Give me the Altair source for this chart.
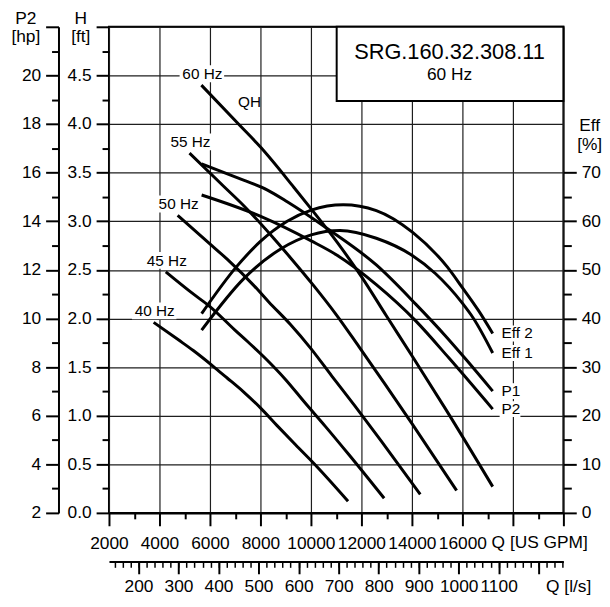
import altair as alt
import pandas as pd

FONT = "Liberation Sans"
LBL = 17.5
TTL = 17.5

# ---------------- values ----------------
FREQ_LABELS = ["60 Hz", "55 Hz", "50 Hz", "45 Hz", "40 Hz"]

Q_60HZ = [5660, 7130, 8010, 9320, 10000, 11020, 12000, 12980, 14090, 15330, 17200]
H_60HZ = [4.40, 4.00, 3.76, 3.35, 3.13, 2.79, 2.43, 2.03, 1.58, 1.07, 0.27]
Q_55HZ = [5190, 6540, 7340, 8540, 9170, 10100, 11000, 11900, 12920, 14050, 15770]
H_55HZ = [3.70, 3.36, 3.16, 2.82, 2.63, 2.34, 2.04, 1.71, 1.33, 0.90, 0.23]
Q_50HZ = [4720, 5940, 6680, 7770, 8330, 9180, 10000, 10820, 11740, 12780, 14330]
H_50HZ = [3.06, 2.78, 2.61, 2.33, 2.17, 1.94, 1.69, 1.41, 1.10, 0.74, 0.19]
Q_45HZ = [4250, 5350, 6010, 6990, 7500, 8270, 9000, 9740, 10570, 11500, 12900]
H_45HZ = [2.48, 2.25, 2.12, 1.88, 1.76, 1.57, 1.37, 1.14, 0.89, 0.60, 0.15]
Q_40HZ = [3770, 4750, 5340, 6210, 6670, 7350, 8000, 8650, 9390, 10220, 11470]
H_40HZ = [1.96, 1.78, 1.67, 1.49, 1.39, 1.24, 1.08, 0.90, 0.70, 0.48, 0.12]

EFF2_Q = [5670, 7030, 8010, 9060, 10010, 11280, 12590, 14030, 15400, 15990, 16640, 17200]
EFF2_PCT = [41.0, 50.5, 55.9, 60.0, 62.3, 63.4, 62.2, 57.7, 50.6, 46.4, 41.6, 36.9]
EFF1_Q = [5670, 7360, 8800, 10010, 11150, 12590, 14000, 14940, 15990, 16440, 17200]
EFF1_PCT = [37.6, 48.3, 54.3, 57.2, 58.1, 56.5, 53.0, 49.2, 43.2, 40.0, 32.9]

P1_Q = [5670, 7100, 8280, 9060, 10630, 12590, 14160, 15330, 16120, 17200]
P1_HP = [16.36, 15.78, 15.28, 14.80, 13.71, 12.20, 10.58, 9.28, 8.34, 7.01]
P2_Q = [5670, 8010, 10010, 11020, 12590, 14160, 15460, 17200]
P2_HP = [15.08, 14.20, 13.19, 12.61, 11.39, 9.89, 8.38, 6.27]

QH_TEXT = "QH"
QH_TEXT_Q = 7570
QH_TEXT_H = 4.23
TITLE = "SRG.160.32.308.11"
SUBTITLE = "60 Hz"

# axis tick values
H_TICKS = [0.0, 0.5, 1.0, 1.5, 2.0, 2.5, 3.0, 3.5, 4.0, 4.5, 5.0]
H_MINOR = [0.25, 0.75, 1.25, 1.75, 2.25, 2.75, 3.25, 3.75, 4.25, 4.75]
P2_TICKS = [2, 4, 6, 8, 10, 12, 14, 16, 18, 20, 22]
P2_MINOR = [3, 5, 7, 9, 11, 13, 15, 17, 19, 21]
EFF_TICKS = [0, 10, 20, 30, 40, 50, 60, 70]
EFF_MINOR = [5, 15, 25, 35, 45, 55, 65]
GPM_TICKS = [2000, 4000, 6000, 8000, 10000, 12000, 14000, 16000, 18000, 20000]
GPM_MINOR = [3000, 5000, 7000, 9000, 11000, 13000, 15000, 17000, 19000]
LS_TICKS = [200, 300, 400, 500, 600, 700, 800, 900, 1000, 1100, 1200]
LS_MINOR = list(range(140, 1261, 20))
GPM_PER_LS = 15.8503

# ---------------- tables ----------------
QH_CURVES = [
    (FREQ_LABELS[0], Q_60HZ, H_60HZ),
    (FREQ_LABELS[1], Q_55HZ, H_55HZ),
    (FREQ_LABELS[2], Q_50HZ, H_50HZ),
    (FREQ_LABELS[3], Q_45HZ, H_45HZ),
    (FREQ_LABELS[4], Q_40HZ, H_40HZ),
]
qh_df = pd.DataFrame([{"curve": n, "Q": q, "H": h}
                      for n, qs, hs in QH_CURVES for q, h in zip(qs, hs)])
qh_lab = pd.DataFrame({"curve": [c[0] for c in QH_CURVES],
                       "Q": [c[1][0] for c in QH_CURVES],
                       "H": [c[2][0] for c in QH_CURVES]})
eff_df = pd.concat([
    pd.DataFrame({"curve": "Eff 2", "Q": EFF2_Q, "v": EFF2_PCT}),
    pd.DataFrame({"curve": "Eff 1", "Q": EFF1_Q, "v": EFF1_PCT}),
])
eff_lab = pd.DataFrame({"curve": ["Eff 2", "Eff 1"],
                        "Q": [EFF2_Q[-1], EFF1_Q[-1]],
                        "v": [EFF2_PCT[-1], EFF1_PCT[-1]]})
p_df = pd.concat([
    pd.DataFrame({"curve": "P1", "Q": P1_Q, "v": P1_HP}),
    pd.DataFrame({"curve": "P2", "Q": P2_Q, "v": P2_HP}),
])
p_lab = pd.DataFrame({"curve": ["P1", "P2"],
                      "Q": [P1_Q[-1], P2_Q[-1]],
                      "v": [P1_HP[-1], P2_HP[-1]]})

# ---------------- scales ----------------
GPM_SCALE = alt.Scale(domain=[GPM_TICKS[0], GPM_TICKS[-1]], nice=False, zero=False)
LS_SCALE = alt.Scale(domain=[GPM_TICKS[0] / GPM_PER_LS, GPM_TICKS[-1] / GPM_PER_LS],
                     nice=False, zero=False)
H_SCALE = alt.Scale(domain=[0, 5], nice=False, zero=False)
HP_SCALE = alt.Scale(domain=[2, 22], nice=False, zero=False)
EFF_SCALE = alt.Scale(domain=[0, 100], nice=False, zero=False)

common = dict(tickColor="black", tickWidth=2, labelColor="black", labelFont=FONT,
              labelFontSize=LBL, titleFont=FONT, titleFontSize=TTL,
              titleFontWeight="normal", titleColor="black",
              labelOverlap=False, labelFlush=False)

gpm_axis = alt.Axis(orient="bottom", values=GPM_TICKS, format="d",
                    labelExpr="datum.value > 17000 ? '' : datum.label",
                    tickSize=13, domain=True, domainColor="black", domainWidth=2.5,
                    labelPadding=8.5, labelBaseline="top",
                    grid=True, gridColor="#1e1e1e", gridWidth=1.2,
                    title="Q [US GPM]", titleX=386, titleY=35,
                    titleAlign="left", titleBaseline="alphabetic", **common)
gpm_minor = alt.Axis(orient="bottom", values=GPM_MINOR, tickSize=6, labels=False,
                     domain=False, grid=False, title=None, tickColor="black", tickWidth=2)
ls_axis = alt.Axis(orient="bottom", offset=49, values=LS_TICKS, format="d",
                   labelExpr="datum.value > 1150 ? '' : datum.label",
                   tickSize=12.5, domain=True, domainColor="black", domainWidth=2,
                   labelPadding=4, labelBaseline="top", grid=False,
                   title="Q [l/s]", titleX=441, titleY=30.5,
                   titleAlign="left", titleBaseline="alphabetic", **common)
ls_minor = alt.Axis(orient="bottom", offset=49, values=LS_MINOR, tickSize=6, labels=False,
                    domain=False, grid=False, title=None, tickColor="black", tickWidth=1.5)
h_axis = alt.Axis(orient="left", values=H_TICKS, format=".1f",
                  labelExpr="datum.value > 4.9 ? '' : datum.label",
                  tickSize=13, domain=False, labelPadding=5, labelBaseline="middle",
                  grid=True, gridColor="#1e1e1e", gridWidth=1.2,
                  title=["H", "[ft]"], titleAngle=0, titleAlign="center",
                  titleBaseline="alphabetic", titleX=-29, titleY=-3.5,
                  titleLineHeight=18.5, **common)
h_minor = alt.Axis(orient="left", values=H_MINOR, tickSize=7, labels=False,
                   domain=False, grid=False, title=None, tickColor="black", tickWidth=2)
p_axis = alt.Axis(orient="left", offset=51, values=P2_TICKS,
                  labelExpr="datum.value > 21 ? '' : datum.label",
                  tickSize=13, domain=True, domainColor="black", domainWidth=2,
                  labelPadding=5, labelBaseline="middle", grid=False,
                  title=["P2", "[hp]"], titleAngle=0, titleAlign="center",
                  titleBaseline="alphabetic", titleX=-33.5, titleY=-3.5,
                  titleLineHeight=18.5, **common)
p_minor = alt.Axis(orient="left", offset=51, values=P2_MINOR, tickSize=7, labels=False,
                   domain=False, grid=False, title=None, tickColor="black", tickWidth=2)
eff_axis = alt.Axis(orient="right", values=EFF_TICKS, tickSize=13, domain=False,
                    labelPadding=5, labelBaseline="middle", grid=False,
                    title=["Eff", "[%]"], titleAngle=0, titleAlign="center",
                    titleBaseline="alphabetic", titleX=26, titleY=105,
                    titleLineHeight=18.5, **common)
eff_minor = alt.Axis(orient="right", values=EFF_MINOR, tickSize=8, labels=False,
                     domain=False, grid=False, title=None, tickColor="black", tickWidth=2)

# ---------------- layers ----------------
title_box = alt.Chart(pd.DataFrame({"t": [TITLE]})).mark_rect(
    fill="white", stroke="black", strokeWidth=2).encode(
    x=alt.value(230), x2=alt.value(459), y=alt.value(0), y2=alt.value(75))
title_txt = alt.Chart(pd.DataFrame({"t": [TITLE]})).mark_text(
    font=FONT, fontSize=22, color="black", align="center", baseline="middle").encode(
    x=alt.value(344), y=alt.value(26), text="t:N")
sub_txt = alt.Chart(pd.DataFrame({"t": [SUBTITLE]})).mark_text(
    font=FONT, fontSize=17.5, color="black", align="center", baseline="middle").encode(
    x=alt.value(344), y=alt.value(48.3), text="t:N")

qh_lines = alt.Chart(qh_df).mark_line(color="black", strokeWidth=3,
                                      interpolate="monotone").encode(
    x=alt.X("Q:Q", scale=GPM_SCALE, axis=gpm_axis),
    y=alt.Y("H:Q", scale=H_SCALE, axis=h_axis),
    detail="curve:N")
qh_lab_bg = alt.Chart(qh_lab).mark_rect(color="white", xOffset=-22, x2Offset=23,
                                         yOffset=-20, y2Offset=-3).encode(
    x=alt.X("Q:Q", scale=GPM_SCALE, axis=None), x2="Q:Q",
    y=alt.Y("H:Q", scale=H_SCALE, axis=None), y2="H:Q")
qh_lab_txt = alt.Chart(qh_lab).mark_text(font=FONT, fontSize=15.5, color="black",
                                          align="center", baseline="middle",
                                          dy=-11, dx=1).encode(
    x=alt.X("Q:Q", scale=GPM_SCALE, axis=None),
    y=alt.Y("H:Q", scale=H_SCALE, axis=None), text="curve:N")
qh_name = alt.Chart(pd.DataFrame({"t": [QH_TEXT], "Q": [QH_TEXT_Q], "H": [QH_TEXT_H]})).mark_text(
    font=FONT, fontSize=15.5, color="black", align="center", baseline="middle").encode(
    x=alt.X("Q:Q", scale=GPM_SCALE, axis=None),
    y=alt.Y("H:Q", scale=H_SCALE, axis=None), text="t:N")

eff_lines = alt.Chart(eff_df).mark_line(color="black", strokeWidth=3,
                                        interpolate="monotone").encode(
    x=alt.X("Q:Q", scale=GPM_SCALE, axis=None),
    y=alt.Y("v:Q", scale=EFF_SCALE, axis=eff_axis),
    detail="curve:N")
eff_lab_bg = alt.Chart(eff_lab).mark_rect(color="white", xOffset=7, x2Offset=42,
                                           yOffset=-8, y2Offset=8).encode(
    x=alt.X("Q:Q", scale=GPM_SCALE, axis=None), x2="Q:Q",
    y=alt.Y("v:Q", scale=EFF_SCALE, axis=None), y2="v:Q")
eff_lab_txt = alt.Chart(eff_lab).mark_text(font=FONT, fontSize=15.5, color="black",
                                            align="left", baseline="middle", dx=9).encode(
    x=alt.X("Q:Q", scale=GPM_SCALE, axis=None),
    y=alt.Y("v:Q", scale=EFF_SCALE, axis=None), text="curve:N")

p_lines = alt.Chart(p_df).mark_line(color="black", strokeWidth=3,
                                    interpolate="monotone").encode(
    x=alt.X("Q:Q", scale=GPM_SCALE, axis=None),
    y=alt.Y("v:Q", scale=HP_SCALE, axis=p_axis),
    detail="curve:N")
p_lab_bg = alt.Chart(p_lab).mark_rect(color="white", xOffset=7, x2Offset=28,
                                       yOffset=-8, y2Offset=8).encode(
    x=alt.X("Q:Q", scale=GPM_SCALE, axis=None), x2="Q:Q",
    y=alt.Y("v:Q", scale=HP_SCALE, axis=None), y2="v:Q")
p_lab_txt = alt.Chart(p_lab).mark_text(font=FONT, fontSize=15.5, color="black",
                                        align="left", baseline="middle", dx=9).encode(
    x=alt.X("Q:Q", scale=GPM_SCALE, axis=None),
    y=alt.Y("v:Q", scale=HP_SCALE, axis=None), text="curve:N")

def carrier_y(vals, scale, axis):
    return alt.Chart(pd.DataFrame({"v": vals})).mark_point(opacity=0).encode(
        y=alt.Y("v:Q", scale=scale, axis=axis))

def carrier_x(vals, scale, axis):
    return alt.Chart(pd.DataFrame({"v": vals})).mark_point(opacity=0).encode(
        x=alt.X("v:Q", scale=scale, axis=axis))

chart = alt.layer(
    title_box,
    qh_lab_bg, eff_lab_bg, p_lab_bg,
    qh_lines, eff_lines, p_lines,
    carrier_y(H_MINOR, H_SCALE, h_minor),
    carrier_x(GPM_MINOR, GPM_SCALE, gpm_minor),
    carrier_x(LS_TICKS, LS_SCALE, ls_axis),
    carrier_x(LS_MINOR, LS_SCALE, ls_minor),
    carrier_y(P2_MINOR, HP_SCALE, p_minor),
    carrier_y(EFF_MINOR, EFF_SCALE, eff_minor),
    qh_lab_txt, qh_name, eff_lab_txt, p_lab_txt,
    title_txt, sub_txt,
).resolve_scale(
    x="independent", y="independent"
).properties(
    width=459, height=491,
    autosize=alt.AutoSizeParams(type="none"),
    padding={"left": 102, "top": 16, "right": 39, "bottom": 84},
).configure_view(
    stroke="black", strokeWidth=2
).configure_text(font=FONT)

chart.save("out.html", embed_options={"renderer": "svg", "actions": False})
